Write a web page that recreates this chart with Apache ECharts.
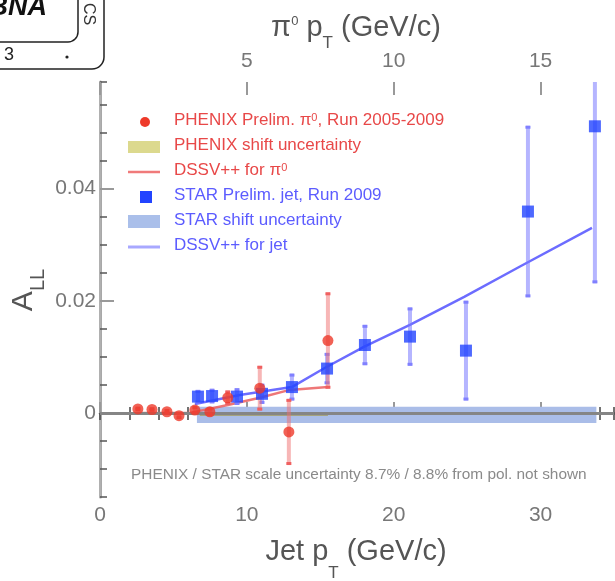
<!DOCTYPE html>
<html lang="en">
<head>
<meta charset="UTF-8">
<title>A_LL jet / pi0</title>
<script src="https://cdn.jsdelivr.net/npm/echarts@6/dist/echarts.min.js"></script>
<style type="text/css">
    body{ margin:0; background:#fff; }
</style>
</head>
<body>
<div id="main" style="width:615px;height:581px;"></div>
<script type="text/javascript">
// PHENIX pi0 points (x = pi0 pT, top axis)
var phenixPt  = [1.29, 1.77, 2.28, 2.69, 3.23, 3.74, 4.35, 5.44, 6.43, 7.76];
var phenixAll = [0.0007, 0.0006, 0.0002, -0.0005, 0.0005, 0.0002, 0.0027, 0.0044, -0.0034, 0.0129];
var phenixErr = [0.0004, 0.0004, 0.0005, 0.0006, 0.0007, 0.0008, 0.0013, 0.0040, 0.0059, 0.0086];
// STAR jet points (x = jet pT, bottom axis)
var starPt  = [6.67, 7.63, 9.33, 11.03, 13.07, 15.46, 18.04, 21.11, 24.92, 29.14, 33.7];
var starAll = [0.0029, 0.0030, 0.0029, 0.0034, 0.0046, 0.0079, 0.0121, 0.0136, 0.0111, 0.0359, 0.0511];
var starErr = [0.0012, 0.0013, 0.0015, 0.0018, 0.0024, 0.0028, 0.0036, 0.0052, 0.0089, 0.0153, 0.028];
// DSSV++ curves
var dssvPiPt  = [1.12, 3.06, 4.35, 5.44, 6.46, 7.76];
var dssvPiAll = [0.0, 0.0, 0.0014, 0.0027, 0.0041, 0.0046];
var dssvJetPt  = [6.46, 9.52, 13.06, 15.3, 18.0, 21.1, 24.8, 28.6, 33.5];
var dssvJetAll = [0.0016, 0.0032, 0.0046, 0.0080, 0.0118, 0.0157, 0.0207, 0.0261, 0.0330];
// shift uncertainty bands [xStart, xEnd, yLow, yHigh]
var starBand   = [6.6, 33.8, -0.0018, 0.0011];
var phenixBand = [3.4, 7.76, -0.0005, 0.0001];
// tick labels
var jetLabels = [0, 10, 20, 30];
var piLabels  = [5, 10, 15];
var yLabels   = [0, 0.02, 0.04];

var FONT = 'Liberation Sans';
var myChart = echarts.init(document.getElementById('main'));

function errBars(xs, ys, es, xIdx, barColor, capColor) {
    var data = [];
    for (var i = 0; i < xs.length; i++) {
        data.push([xs[i], ys[i] - es[i], ys[i] + es[i]]);
    }
    return {
        type: 'custom', xAxisIndex: xIdx, yAxisIndex: 0, z: 5, clip: true, silent: true,
        encode: {x: 0, y: [1, 2]},
        data: data,
        renderItem: function (params, api) {
            var lo = api.coord([api.value(0), api.value(1)]);
            var hi = api.coord([api.value(0), api.value(2)]);
            return {type: 'group', children: [
                {type: 'line', shape: {x1: lo[0], y1: lo[1], x2: hi[0], y2: hi[1]}, style: {stroke: barColor, lineWidth: 4}},
                {type: 'rect', shape: {x: lo[0] - 2.5, y: lo[1] - 3, width: 5, height: 3}, style: {fill: capColor}},
                {type: 'rect', shape: {x: hi[0] - 2.5, y: hi[1], width: 5, height: 3}, style: {fill: capColor}}
            ]};
        }
    };
}

function band(b, xIdx, color, z) {
    return {
        type: 'custom', xAxisIndex: xIdx, yAxisIndex: 0, z: z, silent: true,
        encode: {x: [0, 1], y: [2, 3]},
        data: [b],
        renderItem: function (params, api) {
            var p1 = api.coord([api.value(0), api.value(3)]);
            var p2 = api.coord([api.value(1), api.value(2)]);
            return {type: 'rect', shape: {x: p1[0], y: p1[1], width: p2[0] - p1[0], height: p2[1] - p1[1]}, style: {fill: color}};
        }
    };
}

function pairs(xs, ys) {
    var out = [];
    for (var i = 0; i < xs.length; i++) out.push([xs[i], ys[i]]);
    return out;
}

// text built from pieces with sub/superscripts: [text, fontSize, dy]
var mctx = document.createElement('canvas').getContext('2d');
function tw(t, size) {
    mctx.font = size + 'px ' + FONT;
    return mctx.measureText(t).width;
}
function composite(pieces, cx, cy, rotation) {
    var total = 0;
    pieces.forEach(function (p) { total += tw(p[0], p[1]); });
    var x = -total / 2, kids = [];
    pieces.forEach(function (p) {
        kids.push({type: 'text', x: x, y: p[2], style: {text: p[0], fontSize: p[1], fontFamily: FONT,
            fill: '#555', align: 'left', verticalAlign: 'middle'}});
        x += tw(p[0], p[1]);
    });
    return {type: 'group', x: cx, y: cy, rotation: rotation || 0, silent: true, children: kids};
}

var tickLbl = {fontSize: 21, color: '#777', fontFamily: FONT};
var axLine = {lineStyle: {color: '#8e8e8e', width: 2.5}};

// legend rows
var legY = [122, 147, 172, 197, 222, 247];
var red = '#e84848', blue = '#5c5cff';
function legText(row, txt, color) {
    return {type: 'text', x: 174, y: legY[row] - 10, z: 100, silent: true,
        style: {text: txt, fill: color, align: 'left', verticalAlign: 'top',
            rich: {
                a: {fontSize: 17, lineHeight: 20, verticalAlign: 'top', fontFamily: FONT, fill: color},
                s: {fontSize: 11, lineHeight: 8, verticalAlign: 'top', fontFamily: FONT, fill: color}
            }}};
}

var graphic = [
    // cut-off logo, top left
    {type: 'rect', shape: {x: -20, y: -20, width: 124, height: 89, r: 12}, style: {fill: 'none', stroke: '#222', lineWidth: 1.5}},
    {type: 'rect', shape: {x: -20, y: -20, width: 98, height: 62, r: 10}, style: {fill: 'none', stroke: '#222', lineWidth: 1.5}},
    {type: 'text', x: 47, y: 21, style: {text: 'BNA', align: 'right', verticalAlign: 'bottom', fontSize: 27, fontWeight: 'bold', fontStyle: 'italic', fontFamily: FONT, fill: '#111'}},
    {type: 'text', x: 9, y: 55, style: {text: '3', align: 'center', verticalAlign: 'middle', fontSize: 18, fontFamily: FONT, fill: '#222'}},
    {type: 'circle', shape: {cx: 67, cy: 57, r: 1.6}, style: {fill: '#222'}},
    {type: 'text', x: 88, y: 14, rotation: -Math.PI / 2, style: {text: 'CS', align: 'center', verticalAlign: 'middle', fontSize: 16, fontFamily: FONT, fill: '#333'}},

    // axis titles
    composite([['π', 29, 0], ['0', 13, -7], [' p', 29, 0], ['T', 17, 15], [' (GeV/c)', 29, 0]], 356, 28),
    composite([['Jet p', 29, 0], ['T', 17, 21], [' (GeV/c)', 29, 0]], 356, 552),
    composite([['A', 30, 0], ['LL', 20, 14]], 24, 290, Math.PI / 2),

    // footnote
    {type: 'text', x: 131, y: 475, z: 100, silent: true, style: {text: 'PHENIX / STAR scale uncertainty 8.7% / 8.8% from pol. not shown',
        align: 'left', verticalAlign: 'middle', fontSize: 15.4, fontFamily: FONT, fill: '#8a8a8a'}},

    // legend
    {type: 'circle', z: 100, shape: {cx: 145, cy: legY[0], r: 5}, style: {fill: '#ee3a2a'}},
    {type: 'rect', z: 100, shape: {x: 128, y: legY[1] - 6, width: 32, height: 12}, style: {fill: '#dcd98e'}},
    {type: 'line', z: 100, shape: {x1: 128, y1: legY[2], x2: 160, y2: legY[2]}, style: {stroke: '#f07a7a', lineWidth: 2.5}},
    {type: 'rect', z: 100, shape: {x: 140, y: legY[3] - 6, width: 12, height: 12}, style: {fill: '#2244ff'}},
    {type: 'rect', z: 100, shape: {x: 128, y: legY[4] - 7, width: 32, height: 13}, style: {fill: '#aabfea'}},
    {type: 'line', z: 100, shape: {x1: 128, y1: legY[5], x2: 160, y2: legY[5]}, style: {stroke: '#a8a8ff', lineWidth: 3}},
    legText(0, '{a|PHENIX Prelim. π}{s|0}{a|, Run 2005-2009}', red),
    legText(1, '{a|PHENIX shift uncertainty}', red),
    legText(2, '{a|DSSV++ for π}{s|0}', red),
    legText(3, '{a|STAR Prelim. jet, Run 2009}', blue),
    legText(4, '{a|STAR shift uncertainty}', blue),
    legText(5, '{a|DSSV++ for jet}', blue)
];

var option = {
    animation: false,
    grid: {left: 100, right: 1, top: 82, bottom: 84},
    xAxis: [
        {type: 'value', position: 'bottom', min: 0, max: 35, interval: 2,
            axisLine: axLine,
            axisTick: {inside: true, length: 6, lineStyle: {color: '#444', width: 1.5}},
            axisLabel: Object.assign({customValues: jetLabels, margin: 8}, tickLbl),
            splitLine: {show: false}},
        {type: 'value', position: 'bottom', min: 0, max: 35,
            axisLine: {show: false},
            axisTick: {inside: true, length: 11, customValues: jetLabels, lineStyle: {color: '#999', width: 2}},
            axisLabel: {show: false}, splitLine: {show: false}},
        {type: 'value', position: 'top', min: 0, max: 17.5, interval: 1,
            axisLine: axLine,
            axisTick: {inside: true, length: 7, lineStyle: {color: '#444', width: 1.5}},
            axisLabel: Object.assign({customValues: piLabels, margin: 10}, tickLbl),
            splitLine: {show: false}},
        {type: 'value', position: 'top', min: 0, max: 17.5,
            axisLine: {show: false},
            axisTick: {inside: true, length: 13, customValues: [0, 5, 10, 15], lineStyle: {color: '#999', width: 2}},
            axisLabel: {show: false}, splitLine: {show: false}}
    ],
    yAxis: [
        {type: 'value', position: 'left', min: -0.015, max: 0.059, interval: 0.005,
            axisLine: {lineStyle: {color: '#a8a8a8', width: 3}},
            axisTick: {inside: true, length: 7, lineStyle: {color: '#555', width: 1.5}},
            axisLabel: Object.assign({customValues: yLabels, margin: 4}, tickLbl),
            splitLine: {show: false}},
        {type: 'value', position: 'left', min: -0.015, max: 0.059,
            axisLine: {show: false},
            axisTick: {inside: true, length: 14, customValues: yLabels, lineStyle: {color: '#999', width: 2}},
            axisLabel: {show: false}, splitLine: {show: false}},
        {type: 'value', position: 'right', min: -0.015, max: 0.059,
            axisLine: {show: true, lineStyle: {color: '#b0b0b0', width: 2}},
            axisTick: {show: false}, axisLabel: {show: false}, splitLine: {show: false}}
    ],
    graphic: graphic,
    series: [
        band(starBand, 0, '#aabde8', 1),
        {type: 'line', xAxisIndex: 0, yAxisIndex: 0, data: [], z: 2, silent: true,
            markLine: {silent: true, symbol: 'none', label: {show: false},
                lineStyle: {color: '#858585', width: 3, type: 'solid'},
                data: [{yAxis: 0}]}},
        band(phenixBand, 2, '#a39d5c', 3),
        {type: 'line', xAxisIndex: 2, yAxisIndex: 0, data: pairs(dssvPiPt, dssvPiAll), z: 4,
            showSymbol: false, silent: true, lineStyle: {color: 'rgba(235,95,95,0.85)', width: 2.5}},
        {type: 'line', xAxisIndex: 0, yAxisIndex: 0, data: pairs(dssvJetPt, dssvJetAll), z: 4,
            showSymbol: false, silent: true, lineStyle: {color: '#6c6cff', width: 2.5}},
        errBars(starPt, starAll, starErr, 0, 'rgba(120,120,255,0.55)', '#8080ff'),
        errBars(phenixPt, phenixAll, phenixErr, 2, 'rgba(240,110,110,0.5)', '#f06060'),
        {type: 'scatter', xAxisIndex: 0, yAxisIndex: 0, data: pairs(starPt, starAll), z: 6,
            symbol: 'rect', symbolSize: 12, silent: true, itemStyle: {color: '#2244ff'}},
        {type: 'scatter', xAxisIndex: 2, yAxisIndex: 0, data: pairs(phenixPt, phenixAll), z: 6,
            symbol: 'circle', symbolSize: 11, silent: true, itemStyle: {color: '#ee3a2a'}}
    ]
};
myChart.setOption(option);
</script>
</body>
</html>
